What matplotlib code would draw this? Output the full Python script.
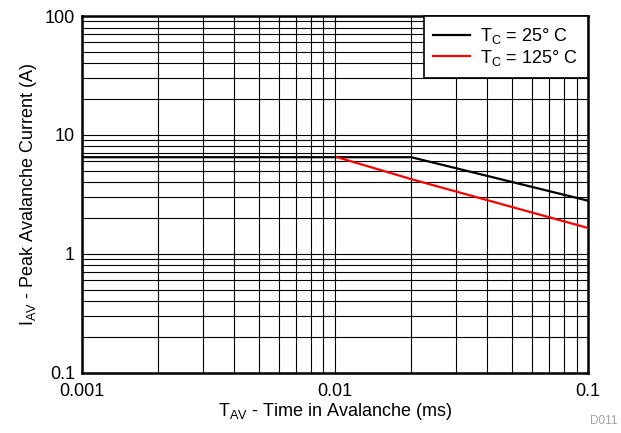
import matplotlib
matplotlib.use("Agg")
import matplotlib.pyplot as plt
from matplotlib.ticker import LogLocator, FixedLocator, FixedFormatter, NullFormatter

plt.rcParams['font.family'] = ['Liberation Sans', 'DejaVu Sans']
plt.rcParams['mathtext.fontset'] = 'custom'
plt.rcParams['mathtext.rm'] = 'Liberation Sans'

# ---- data ----
t_25c = [0.001, 0.02, 0.1]
i_25c = [6.5, 6.5, 2.8]
t_125c = [0.0102, 0.02, 0.1]
i_125c = [6.5, 4.25, 1.65]

x_ticks = [0.001, 0.01, 0.1]
x_labels = ["0.001", "0.01", "0.1"]
y_ticks = [0.1, 1, 10, 100]
y_labels = ["0.1", "1", "10", "100"]

FS = 13

fig = plt.figure(figsize=(6.21, 4.33), dpi=100)
ax = fig.add_axes([0.132, 0.139, 0.815, 0.824])

ax.plot(t_25c, i_25c, color='black', lw=1.6, label=r"T$_\mathregular{C}$ = 25° C", zorder=3)
ax.plot(t_125c, i_125c, color='#ff0000', lw=1.6, label=r"T$_\mathregular{C}$ = 125° C", zorder=3)

ax.set_xscale('log')
ax.set_yscale('log')
ax.set_xlim(0.001, 0.1)
ax.set_ylim(0.1, 100)

ax.xaxis.set_major_locator(FixedLocator(x_ticks))
ax.xaxis.set_major_formatter(FixedFormatter(x_labels))
ax.yaxis.set_major_locator(FixedLocator(y_ticks))
ax.yaxis.set_major_formatter(FixedFormatter(y_labels))
ax.xaxis.set_minor_locator(LogLocator(base=10, subs=range(2, 10)))
ax.yaxis.set_minor_locator(LogLocator(base=10, subs=range(2, 10)))
ax.xaxis.set_minor_formatter(NullFormatter())
ax.yaxis.set_minor_formatter(NullFormatter())

ax.grid(True, which='both', color='black', lw=0.8)
ax.tick_params(axis='y', which='both', length=0, labelsize=FS, pad=5)
ax.tick_params(axis='x', which='both', length=0, labelsize=FS, pad=7)

for s in ax.spines.values():
    s.set_linewidth(1.8)

ax.set_xlabel(r"T$_\mathregular{AV}$ - Time in Avalanche (ms)", fontsize=FS, labelpad=1)
ax.set_ylabel(r"I$_\mathregular{AV}$ - Peak Avalanche Current (A)", fontsize=FS, labelpad=4)

leg = ax.legend(loc='upper right', borderaxespad=0, fancybox=False, framealpha=1,
                edgecolor='black', fontsize=FS, handlelength=2.0, borderpad=0.55,
                labelspacing=0.1, handletextpad=0.6)
leg.get_frame().set_linewidth(1.2)

fig.text(0.995, 0.015, "D011", ha='right', va='bottom', fontsize=8.5, color='#a0a0a0')

fig.savefig("out.png", dpi=100)
